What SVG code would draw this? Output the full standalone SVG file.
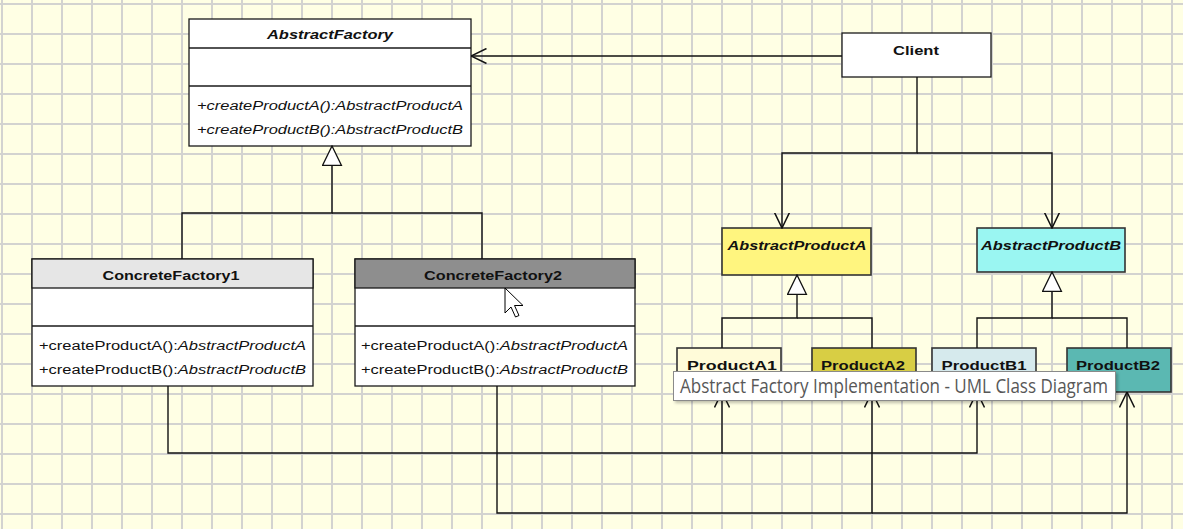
<svg xmlns="http://www.w3.org/2000/svg" width="1183" height="529" viewBox="0 0 1183 529">
<style>
.box{stroke:#1a1a1a;stroke-width:1.3}
.pbox{stroke:#333;stroke-width:1.6}
.t{font-family:"Liberation Sans",Arial,sans-serif;fill:#111}
.tb{font-weight:bold;font-size:13px}
.ti{font-style:italic}
.m{font-size:12.5px}
.conn{fill:none;stroke:#111;stroke-width:1.4}
.tip{font-family:"Open Sans","Noto Sans","DejaVu Sans",sans-serif;font-size:19.5px;fill:#575757}
</style>
<defs>
<pattern id="grid" patternUnits="userSpaceOnUse" x="-13" y="-11" width="30" height="30">
<rect width="30" height="30" fill="#ffffe4"/>
<rect x="14" y="0" width="2" height="30" fill="#d3d3d0"/>
<rect x="0" y="14" width="30" height="2" fill="#d3d3d0"/>
</pattern>
<marker id="open" markerUnits="userSpaceOnUse" viewBox="0 0 16 16" refX="15.5" refY="8" markerWidth="16" markerHeight="16" orient="auto">
<path d="M0,0.5 L15.5,8 L0,15.5" fill="none" stroke="#111" stroke-width="1.5"/>
</marker>
<marker id="tri" markerUnits="userSpaceOnUse" viewBox="0 0 21 21" refX="20" refY="10" markerWidth="21" markerHeight="21" orient="auto">
<path d="M0.5,0.5 L20,10 L0.5,19.5 Z" fill="#fff" stroke="#111" stroke-width="1.3"/>
</marker>
<filter id="sh" x="-5%" y="-20%" width="115%" height="160%">
<feDropShadow dx="2" dy="2" stdDeviation="1.5" flood-color="#000" flood-opacity="0.25"/>
</filter>
</defs>
<rect width="1183" height="529" fill="url(#grid)"/>

<g id="AbstractFactory">
<rect class="box" x="189" y="19" width="282" height="127" fill="#fff"/>
<line class="box" x1="189" y1="48" x2="471" y2="48"/>
<line class="box" x1="189" y1="86" x2="471" y2="86"/>
<text class="t tb ti" x="330" y="39" text-anchor="middle" font-size="13.5" textLength="126" lengthAdjust="spacingAndGlyphs">AbstractFactory</text>
<text class="t ti m" x="197" y="110" textLength="266" lengthAdjust="spacingAndGlyphs">+createProductA():AbstractProductA</text>
<text class="t ti m" x="197" y="134" textLength="266" lengthAdjust="spacingAndGlyphs">+createProductB():AbstractProductB</text>
</g>

<g id="Client">
<rect class="box" x="842" y="33" width="149" height="44" fill="#fff"/>
<text class="t tb" x="916" y="55" text-anchor="middle" font-size="14" textLength="46" lengthAdjust="spacingAndGlyphs">Client</text>
</g>

<g id="ConcreteFactory1">
<rect class="box" x="32" y="259" width="281" height="127" fill="#fff"/>
<rect class="box" x="32" y="259" width="281" height="29" fill="#e6e6e6"/>
<line class="box" x1="32" y1="326" x2="313" y2="326"/>
<text class="t tb" x="171" y="280" text-anchor="middle" textLength="137" lengthAdjust="spacingAndGlyphs">ConcreteFactory1</text>
<text class="t m" x="39" y="350" textLength="267" lengthAdjust="spacingAndGlyphs">+createProductA():<tspan class="ti">AbstractProductA</tspan></text>
<text class="t m" x="39" y="374" textLength="267" lengthAdjust="spacingAndGlyphs">+createProductB():<tspan class="ti">AbstractProductB</tspan></text>
</g>

<g id="ConcreteFactory2">
<rect class="box" x="355" y="259" width="280" height="127" fill="#fff"/>
<rect class="box" x="355" y="259" width="280" height="29" fill="#8e8e8e"/>
<line class="box" x1="355" y1="326" x2="635" y2="326"/>
<text class="t tb" x="493" y="280" text-anchor="middle" textLength="138" lengthAdjust="spacingAndGlyphs">ConcreteFactory2</text>
<text class="t m" x="361" y="350" textLength="267" lengthAdjust="spacingAndGlyphs">+createProductA():<tspan class="ti">AbstractProductA</tspan></text>
<text class="t m" x="361" y="374" textLength="267" lengthAdjust="spacingAndGlyphs">+createProductB():<tspan class="ti">AbstractProductB</tspan></text>
</g>

<g id="AbstractProductA">
<rect class="pbox" x="722" y="228" width="149" height="47" fill="#fff57f"/>
<text class="t tb ti" x="797" y="250" text-anchor="middle" textLength="139" lengthAdjust="spacingAndGlyphs">AbstractProductA</text>
</g>

<g id="AbstractProductB">
<rect class="pbox" x="977" y="228" width="148" height="44" fill="#9af6f2"/>
<text class="t tb ti" x="1051" y="250" text-anchor="middle" textLength="140" lengthAdjust="spacingAndGlyphs">AbstractProductB</text>
</g>

<g id="ProductA1">
<rect class="pbox" x="677" y="348" width="104" height="44" fill="#fffbd9"/>
<text class="t tb" x="732" y="370" text-anchor="middle" font-size="14.5" textLength="90" lengthAdjust="spacingAndGlyphs">ProductA1</text>
</g>
<g id="ProductA2">
<rect class="pbox" x="812" y="348" width="104" height="44" fill="#d8ce44"/>
<text class="t tb" x="863" y="370" text-anchor="middle" font-size="14.5" textLength="84" lengthAdjust="spacingAndGlyphs">ProductA2</text>
</g>
<g id="ProductB1">
<rect class="pbox" x="932" y="348" width="104" height="44" fill="#d6eaed"/>
<text class="t tb" x="984" y="370" text-anchor="middle" font-size="14.5" textLength="85" lengthAdjust="spacingAndGlyphs">ProductB1</text>
</g>
<g id="ProductB2">
<rect class="pbox" x="1067" y="348" width="104" height="44" fill="#5bb8b2"/>
<text class="t tb" x="1118" y="370" text-anchor="middle" font-size="14.5" textLength="84" lengthAdjust="spacingAndGlyphs">ProductB2</text>
</g>

<g id="connectors">
<path class="conn" d="M842,56 H471" marker-end="url(#open)"/>
<path class="conn" d="M917,77 V153 H782 V228" marker-end="url(#open)"/>
<path class="conn" d="M917,153 H1052 V228" marker-end="url(#open)"/>
<path class="conn" d="M182,259 V213 H332 V146" marker-end="url(#tri)"/>
<path class="conn" d="M482,259 V213 H332"/>
<path class="conn" d="M722,348 V318 H797 V275" marker-end="url(#tri)"/>
<path class="conn" d="M872,348 V318 H797"/>
<path class="conn" d="M977,348 V318 H1052 V272" marker-end="url(#tri)"/>
<path class="conn" d="M1127,348 V318 H1052"/>
<path class="conn" d="M168,386 V453 H722 V392" marker-end="url(#open)"/>
<path class="conn" d="M722,453 H977 V392" marker-end="url(#open)"/>
<path class="conn" d="M497,386 V513 H872 V392" marker-end="url(#open)"/>
<path class="conn" d="M872,513 H1127 V392" marker-end="url(#open)"/>
</g>

<g id="tooltip">
<rect x="673.5" y="371.5" width="442" height="29" fill="#fff" stroke="#8a8a8a" stroke-width="1" filter="url(#sh)"/>
<text class="tip" x="680" y="393" textLength="428" lengthAdjust="spacingAndGlyphs">Abstract Factory Implementation - UML Class Diagram</text>
</g>

<g id="cursor">
<path d="M505,288 L505,313 L511,307 L515.5,317 L519,315.5 L514.5,305.5 L523,305.5 Z" fill="#fff" stroke="#000" stroke-width="1" stroke-linejoin="miter"/>
</g>
</svg>
